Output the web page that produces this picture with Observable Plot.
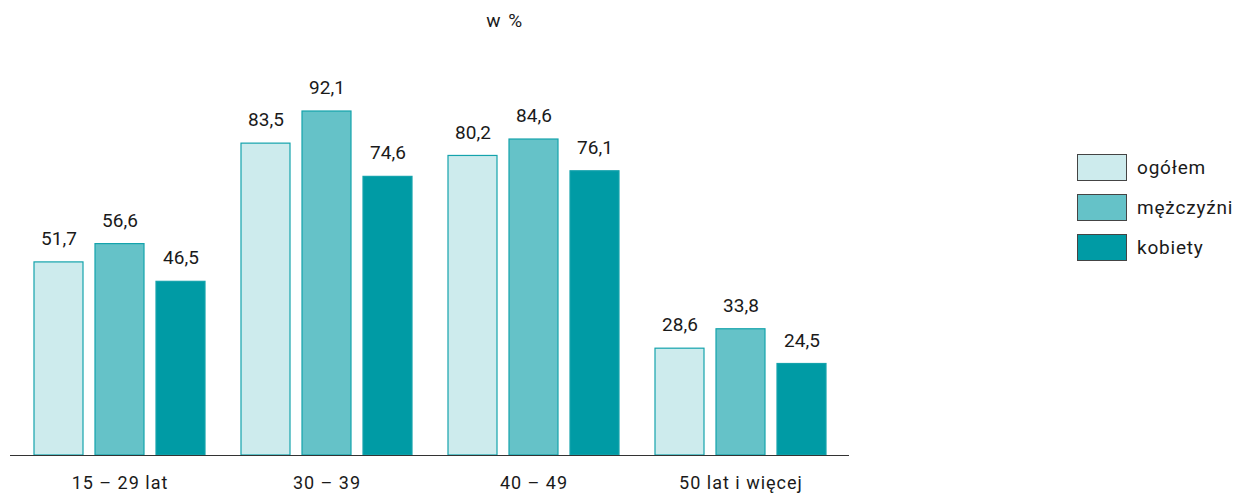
<!DOCTYPE html>
<html>
<head>
<meta charset="utf-8">
<script src="https://cdn.jsdelivr.net/npm/d3@7"></script>
<script src="https://cdn.jsdelivr.net/npm/@observablehq/plot@0.6"></script>
<style>
  html, body { margin: 0; padding: 0; background: #fff; }
  body { width: 1237px; height: 494px; position: relative; overflow: hidden; font-family: Roboto, sans-serif; color: #1a1a1a; }
  #title { position: absolute; left: 405px; width: 200px; top: 9px; text-align: center; font-size: 19px; letter-spacing: 1.5px; }
  #chart { position: absolute; left: 0; top: 50px; }
  #chart svg g[aria-label="fx-axis tick label"] text { letter-spacing: 1px; }
  #legend { position: absolute; left: 1077px; top: 154px; font-size: 19px; letter-spacing: 0.8px; }
  .item { display: flex; align-items: center; height: 27px; margin-bottom: 13px; }
  .sw { width: 48px; height: 25px; border: 1px solid #444; margin-right: 10px; }
</style>
</head>
<body>
<div id="title">w %</div>
<div id="chart"></div>
<div id="legend"></div>
<script>
const groups = ["15 – 29 lat", "30 – 39", "40 – 49", "50 lat i więcej"];
const series = ["ogółem", "mężczyźni", "kobiety"];
const ogolem = [51.7, 83.5, 80.2, 28.6];
const mezczyzni = [56.6, 92.1, 84.6, 33.8];
const kobiety = [46.5, 74.6, 76.1, 24.5];
const colors = ["#cdebed", "#65c2c8", "#009ba5"];

const valuesBySeries = [ogolem, mezczyzni, kobiety];
const rows = [];
groups.forEach((g, gi) => series.forEach((s, si) => rows.push({group: g, series: s, value: valuesBySeries[si][gi]})));
const fmt = d => d.toFixed(1).replace(".", ",");

const chart = Plot.plot({
  width: 1237,
  height: 444,
  marginLeft: 11,
  marginRight: 388,
  marginTop: 31.5,
  marginBottom: 39,
  style: {fontFamily: "Roboto, sans-serif", fontSize: "18px", color: "#1a1a1a", background: "transparent"},
  facet: {data: rows, x: "group"},
  fx: {domain: groups, axis: "bottom", label: null, tickSize: 0, tickPadding: 21, paddingInner: 0.06, paddingOuter: 0.0476},
  x: {domain: series, axis: null, padding: 0.19},
  y: {domain: [0, 100], axis: null},
  color: {domain: series, range: colors},
  marks: [
    Plot.barY(rows, {x: "series", y: "value", fill: "series", stroke: "#14a3ac", strokeWidth: 1.2}),
    Plot.text(rows, {x: "series", y: "value", text: d => fmt(d.value), dy: -23.5, lineAnchor: "middle", fill: "#1a1a1a", fontSize: 19}),
    Plot.ruleY([0], {stroke: "#333", strokeWidth: 1.2, insetLeft: -12, insetRight: -11})
  ]
});
document.getElementById("chart").appendChild(chart);

const legend = document.getElementById("legend");
series.forEach((s, i) => {
  const item = document.createElement("div");
  item.className = "item";
  const sw = document.createElement("div");
  sw.className = "sw";
  sw.style.background = colors[i];
  const label = document.createElement("span");
  label.textContent = s;
  item.appendChild(sw);
  item.appendChild(label);
  legend.appendChild(item);
});
</script>
</body>
</html>
